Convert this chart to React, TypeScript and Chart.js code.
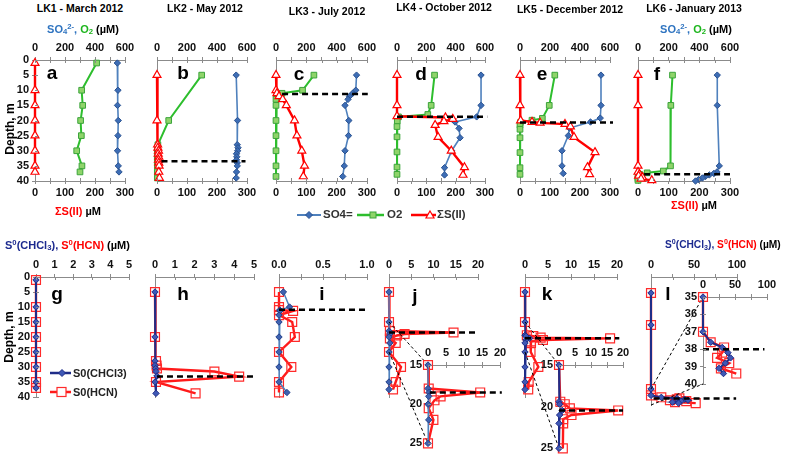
import React, { useEffect, useRef } from "react";
import { Chart, registerables } from "chart.js";

Chart.register(...registerables);

// ===================== DATA =====================
// Top row: depth (m); SO4 and O2 in µM (0–600 axis); ΣS(II) in µM (0–300 axis)
const aDepth = [1, 10, 15, 20, 25, 30, 35, 37];
const aSO4 = [549, 553, 550, 555, 553, 550, 555, 560];
const aO2 = [411, 311, 318, 304, 309, 278, 313, 300];
const aHS = [0, 0, 0, 0, 0, 0, 0, 0];

const bDepth = [5, 20, 28, 29, 30, 31, 32, 33, 34, 35, 37, 39];
const bSO4 = [528, 537, 535, 540, 538, 530, 532, 530, 535, 535, 530, 528];
const bO2 = [298, 78, 6, 4, 3, 2, 2, 2, 2, 2, 2, 2];
const bHS = [0, 0, 2, 3, 5, 4, 6, 5, 6, 7, 6, 8];
const bChemo = [33.5, 30, 590]; // depth, from, to

const cDepth = [5, 10, 11, 12, 13, 15, 20, 25, 30, 35, 38.5];
const cSO4 = [531, 526, 505, 485, 475, 455, 480, 478, 455, 450, 440];
const cO2 = [250, 175, 40, 5, 0, 0, 0, 0, 0, 0, 0];
const cHS = [0, 0, 3, 10, 22, 34, 61, 69, 85, 94, 90];
const cChemo = [11.2, 40, 605];

const dDepthSO4 = [5, 15, 18.8, 20.5, 22.6, 25.7, 30, 35.6, 38];
const dSO4 = [573, 573, 543, 396, 423, 430, 373, 324, 324];
const dDepthO2 = [5, 15, 18, 18.8, 20.2, 22, 25.4, 30.4, 35.4, 37.8];
const dO2 = [256, 233, 210, 10, 2, 0, 0, 0, 0, 0];
const dDepthHS = [5, 15, 18.6, 19, 19.5, 20.3, 21.5, 25.5, 30, 35.5, 38];
const dHS = [0, 0, 0, 165, 190, 160, 130, 140, 185, 230, 225];
const dChemo = [18.8, 0, 615];

const eDepthSO4 = [5, 15, 19.2, 20.5, 22.5, 25, 30, 35, 37.5];
const eSO4 = [540, 540, 535, 470, 330, 322, 280, 280, 288];
const eDepthO2 = [5, 15, 19.3, 19.9, 20.7, 21.5, 22.9, 25.7, 30.6, 35.6, 37.8];
const eO2 = [232, 195, 149, 80, 2, 0, 0, 0, 0, 0, 0];
const eDepthHS = [5, 15, 20, 20.5, 20.8, 21.2, 22, 25.5, 30.5, 35.5, 37.8];
const eHS = [0, 0, 2, 40, 67, 150, 168, 180, 250, 225, 232];
const eChemo = [20.7, 0, 620];

const fDepthSO4 = [5, 15, 35, 37, 37.5, 38, 38.5, 39, 39.5, 40];
const fSO4 = [517, 517, 530, 515, 495, 465, 440, 420, 395, 375];
const fDepthO2 = [5, 15, 35, 36.7, 37.3, 37.8, 38.3, 38.8, 39.3, 39.8];
const fO2 = [225, 214, 212, 165, 60, 10, 2, 0, 0, 0];
const fDepthHS = [5, 15, 35, 37, 37.8, 38.3, 38.8, 39.3, 39.8];
const fHS = [0, 0, 0, 0, 5, 2, 15, 10, 45];
const fChemo = [37.8, 40, 600];

// Bottom row: depth (m); S0(CHCl3) and S0(HCN) in µM
const gDepth = [1, 10, 15, 20, 25, 30, 35, 37];
const gCHCl3 = [0, 0, 0, 0, 0, 0, 0, 0];
const gHCN = [0, 0, 0, 0, 0, 0, 0, 0];

const hDepthC = [5, 20, 28, 29.5, 30.5, 31.5, 33, 35, 38.8];
const hCHCl3 = [0, 0, 0, 0, 0.03, 0.05, 0.1, 0, 0.05];
const hDepthH = [5, 20, 28, 29.5, 30.5, 31.5, 33.2, 35, 38.8];
const hHCN = [0, 0, 0.05, 0.08, 0.1, 3.0, 4.25, 0.05, 2.05];
const hChemo = [33.2, 0.1, 5];

const iDepth = [5, 10, 11, 11.3, 12.7, 15, 20, 25, 30, 35, 38.5];
const iCHCl3 = [0.05, 0.12, 0.01, 0.01, 0, 0, 0, 0, 0, 0, 0.09];
const iHCN = [0, 0, 0, 0.16, 0, 0.15, 0.18, 0, 0.14, 0, 0];
const iChemo = [10.9, 0, 1.0];

const jDepthC = [5, 15, 18, 18.5, 19, 20, 22, 25, 30, 35, 37.5];
const jCHCl3 = [0, 0, 0, 0.3, 0.2, 0, 0.2, 0, 0, 0, 0];
const jDepthH = [5, 15, 18, 18.5, 19, 19.5, 20.5, 22, 25, 30, 35, 37.5];
const jHCN = [0, 0, 0.2, 14.5, 3.5, 1.8, 0.2, 1.5, 0, 2.7, 1.5, 0.9];
const jChemo = [18.5, 0, 19.8];
const jInsetChemo = [18.5, 0.5, 20.5];

const kDepthC = [5, 15, 19.4, 19.7, 20.45, 21, 22, 25, 30, 35, 37.5];
const kCHCl3 = [0, 0, 0, 0.2, 1.0, 0.2, 0, 0, 0, 0, 0];
const kDepthH = [5, 15, 19.4, 19.7, 20.2, 20.45, 21, 21.5, 22, 25, 30, 35, 37.5];
const kHCN = [0, 0, 0.4, 1.8, 3.4, 18.5, 3.9, 1.3, 1.3, 1.2, 2.9, 0.8, 0.7];
const kChemo = [20.45, 0, 20.5];
const kInsetChemo = [20.45, 0, 20];

const lDepth = [5, 15, 35, 37, 37.6, 37.9, 38.2, 38.5, 38.8, 39.1, 39.4];
const lCHCl3 = [0, 0, 0, 0, 12, 30, 39, 43, 35, 25, 32];
const lHCN = [0, 0, 0, 0, 12, 33, 30, 22, 41, 28, 52];
const lChemo = [38, 3, 99];
const lInsetChemo = [38, 0, 96];

// Tick labels
const SO4_TICKS = [0, 200, 400, 600];
const HS_TICKS = [0, 100, 200, 300];
const DEPTH_TICKS = [0, 5, 10, 15, 20, 25, 30, 35, 40];
const GH_TICKS = [0, 1, 2, 3, 4, 5];
const I_TICKS = [0, 0.5, 1];
const JK_TICKS = [0, 5, 10, 15, 20];
const L_TICKS = [0, 50, 100];
const INSET_JK_DEPTH = [15, 20, 25];
const INSET_L_DEPTH = [35, 36, 37, 38, 39, 40];

// ===================== STYLE =====================
const FONT = "'Liberation Sans', Arial, Helvetica, sans-serif";
const AXIS = "#8b8b8b";
Chart.defaults.font.family = FONT;
Chart.defaults.font.size = 11;
Chart.defaults.font.weight = "bold" as any;
Chart.defaults.color = "#111";

const SO4_STYLE = { borderColor: "#4F81BD", borderWidth: 1.6, pointStyle: "rectRot", pointRadius: 3.2, pointBackgroundColor: "#3D6DB5", pointBorderColor: "#2A5290", pointBorderWidth: 1 };
const O2_STYLE = { borderColor: "#2DBE2D", borderWidth: 2, pointStyle: "rect", pointRadius: 4, pointBackgroundColor: "#8FD46A", pointBorderColor: "#3BA43B", pointBorderWidth: 1 };
const HS_STYLE = { borderColor: "#FF0000", borderWidth: 2.4, pointStyle: "triangle", pointRadius: 4.6, pointBackgroundColor: "#FFFFFF", pointBorderColor: "#FF0000", pointBorderWidth: 1.2 };
const CHCL3_DARK = { borderColor: "#1F2D88", borderWidth: 2, pointStyle: "rectRot", pointRadius: 3.2, pointBackgroundColor: "#3E58B5", pointBorderColor: "#1F2D88", pointBorderWidth: 1 };
const CHCL3_LIGHT = { borderColor: "#4F81BD", borderWidth: 1.5, pointStyle: "rectRot", pointRadius: 3.2, pointBackgroundColor: "#3E62B0", pointBorderColor: "#24408A", pointBorderWidth: 1 };
const HCN_STYLE = { borderColor: "#FF1A1A", borderWidth: 2.4, pointStyle: "rect", pointRadius: 6.3, pointBackgroundColor: "rgba(255,255,255,0)", pointBorderColor: "#FF2A2A", pointBorderWidth: 1.2 };
const DASH_STYLE = { borderColor: "#000", borderWidth: 2.5, borderDash: [6, 4], pointRadius: 0 };

type Box = { left: number; top: number; w: number; h: number };
type Margin = { L: number; T: number; R: number; B: number };
const TOP_M: Margin = { L: 34, T: 26, R: 14, B: 26 };
const BOT_M: Margin = { L: 34, T: 26, R: 14, B: 10 };

// ===================== HELPERS =====================
const pts = (d: number[], v: number[], lo = -Infinity, hi = Infinity) =>
  d.map((y, i) => ({ x: v[i], y })).filter((p) => p.y >= lo - 1e-9 && p.y <= hi + 1e-9);

const only = (list: number[], fmt: (v: number) => string = (v) => String(v)) => (val: any) => {
  const n = Number(val);
  return list.some((t) => Math.abs(t - n) < 1e-6) ? fmt(n) : "";
};

function xAxis(position: string, min: number, max: number, step: number, labels: number[], size: number, fmt?: (v: number) => string) {
  return {
    type: "linear", position, min, max, innerTick: true,
    ticks: { stepSize: step, autoSkip: false, maxRotation: 0, padding: 2, callback: only(labels, fmt), color: "#111", font: { size: 11, weight: "bold" } },
    grid: { display: true, drawOnChartArea: false, drawTicks: true, tickLength: 3, color: AXIS, lineWidth: 1 },
    border: { display: true, color: AXIS, width: 1 },
    afterFit: (s: any) => { s.height = size; },
  };
}

function yAxis(min: number, max: number, step: number, labels: number[] | null, width: number, tickLen: number) {
  return {
    type: "linear", position: "left", reverse: true, min, max, innerTick: tickLen > 0,
    ticks: { stepSize: step, autoSkip: false, display: !!labels, padding: 3, callback: labels ? only(labels) : () => "", color: "#111", font: { size: 11, weight: "bold" } },
    grid: { display: true, drawOnChartArea: false, drawTicks: tickLen > 0, tickLength: tickLen, color: AXIS, lineWidth: 1 },
    border: { display: true, color: AXIS, width: 1 },
    afterFit: (s: any) => { s.width = width; },
  };
}

// small tick marks on the inner side of the axis line (ticks cross the axis, as in the figure)
const innerTicks = {
  id: "innerTicks",
  afterDraw(chart: any) {
    const ctx = chart.ctx;
    ctx.save();
    ctx.strokeStyle = AXIS;
    ctx.lineWidth = 1;
    Object.values(chart.scales).forEach((sc: any) => {
      if (!sc.options.innerTick) return;
      sc.ticks.forEach((t: any) => {
        const p = Math.round(sc.getPixelForValue(t.value)) + 0.5;
        ctx.beginPath();
        if (sc.isHorizontal()) {
          const y = sc.options.position === "top" ? sc.bottom : sc.top;
          const dir = sc.options.position === "top" ? 1 : -1;
          ctx.moveTo(p, y);
          ctx.lineTo(p, y + dir * 3);
        } else {
          ctx.moveTo(sc.right, p);
          ctx.lineTo(sc.right + 3, p);
        }
        ctx.stroke();
      });
    });
    ctx.restore();
  },
};

const ds = (data: any[], xAxisID: string, style: any) => ({ data, xAxisID, yAxisID: "y", showLine: true, clip: false, ...style });
const dash = (c: number[] | null, xAxisID: string) =>
  c ? ds([{ x: c[1], y: c[0] }, { x: c[2], y: c[0] }], xAxisID, DASH_STYLE) : null;

function baseConfig(m: Margin, padBottom: number, datasets: any[], scales: any, plugins: any[] = []) {
  return {
    type: "scatter",
    data: { datasets: datasets.filter(Boolean) },
    options: {
      animation: false, responsive: false, maintainAspectRatio: false, devicePixelRatio: 1, events: [],
      layout: { padding: { left: 0, top: 0, right: m.R, bottom: padBottom } },
      plugins: { legend: { display: false }, tooltip: { enabled: false } },
      elements: { line: { tension: 0 } },
      scales,
    },
    plugins: [innerTicks, ...plugins],
  } as any;
}

type Spec = { id: string; box: Box; m: Margin; build: (charts: Record<string, Chart>) => any };

function topSpec(id: string, box: Box, so4: number[][], o2: number[][], hs: number[][], chemo: number[] | null, depthLabels: boolean): Spec {
  return {
    id, box, m: TOP_M,
    build: () => baseConfig(TOP_M, 0, [
      dash(chemo, "xTop"),
      ds(pts(hs[0], hs[1]), "xBot", HS_STYLE),
      ds(pts(o2[0], o2[1]), "xTop", O2_STYLE),
      ds(pts(so4[0], so4[1]), "xTop", SO4_STYLE),
    ], {
      y: yAxis(0, 40, 5, depthLabels ? DEPTH_TICKS : null, TOP_M.L, depthLabels ? 3 : 0),
      xTop: xAxis("top", 0, 600, 100, SO4_TICKS, TOP_M.T),
      xBot: xAxis("bottom", 0, 300, 50, HS_TICKS, TOP_M.B),
    }),
  };
}

function botSpec(id: string, box: Box, chl: number[][], hcn: number[][], chemo: number[] | null, xMax: number, step: number, ticks: number[], depthLabels: boolean, dark: boolean, fmt?: (v: number) => string): Spec {
  return {
    id, box, m: BOT_M,
    build: () => baseConfig(BOT_M, BOT_M.B, [
      dash(chemo, "x"),
      ds(pts(chl[0], chl[1]), "x", dark ? CHCL3_DARK : CHCL3_LIGHT),
      ds(pts(hcn[0], hcn[1]), "x", HCN_STYLE),
    ], {
      y: yAxis(0, 40, 5, depthLabels ? DEPTH_TICKS : null, BOT_M.L, depthLabels ? 3 : 0),
      x: xAxis("top", 0, xMax, step, ticks, BOT_M.T, fmt),
    }),
  };
}

function insetSpec(id: string, main: Spec, box: Box, m: Margin, chl: number[][], hcn: number[][], chemo: number[], xMax: number, step: number, ticks: number[], yMin: number, yMax: number, yStep: number, yTicks: number[], dark: boolean): Spec {
  const connectors = (charts: Record<string, Chart>) => ({
    id: "connectors-" + id,
    beforeDatasetsDraw(chart: any) {
      const mc: any = charts[main.id];
      if (!mc) return;
      const ctx = chart.ctx;
      const offX = (main.box.left - main.m.L) - (box.left - m.L);
      const offY = (main.box.top - main.m.T) - (box.top - m.T);
      ctx.save();
      ctx.setLineDash([3, 2.5]);
      ctx.lineWidth = 1;
      ctx.strokeStyle = "#000";
      [yMin, yMax].forEach((d) => {
        const x1 = mc.scales.x.getPixelForValue(0) + offX;
        const y1 = mc.scales.y.getPixelForValue(d) + offY;
        const x2 = chart.scales.x.getPixelForValue(0);
        const y2 = chart.scales.y.getPixelForValue(d);
        ctx.beginPath();
        ctx.moveTo(x1, y1);
        ctx.lineTo(x2, y2);
        ctx.stroke();
      });
      ctx.restore();
    },
  });
  return {
    id, box, m,
    build: (charts) => baseConfig(m, m.B, [
      dash(chemo, "x"),
      ds(pts(chl[0], chl[1], yMin, yMax), "x", dark ? CHCL3_DARK : CHCL3_LIGHT),
      ds(pts(hcn[0], hcn[1], yMin, yMax), "x", HCN_STYLE),
    ], {
      y: yAxis(yMin, yMax, yStep, yTicks, m.L, 3),
      x: xAxis("top", 0, xMax, step, ticks, m.T),
    }, [connectors(charts)]),
  };
}

// ===================== LAYOUT =====================
const TOP_Y = 60, TOP_H = 121, BOT_Y = 277, BOT_H = 120;

const specA = topSpec("a", { left: 35, top: TOP_Y, w: 90, h: TOP_H }, [aDepth, aSO4], [aDepth, aO2], [aDepth, aHS], null, true);
const specB = topSpec("b", { left: 157, top: TOP_Y, w: 90, h: TOP_H }, [bDepth, bSO4], [bDepth, bO2], [bDepth, bHS], bChemo, false);
const specC = topSpec("c", { left: 276, top: TOP_Y, w: 91, h: TOP_H }, [cDepth, cSO4], [cDepth, cO2], [cDepth, cHS], cChemo, false);
const specD = topSpec("d", { left: 397, top: TOP_Y, w: 88, h: TOP_H }, [dDepthSO4, dSO4], [dDepthO2, dO2], [dDepthHS, dHS], dChemo, false);
const specE = topSpec("e", { left: 520, top: TOP_Y, w: 90, h: TOP_H }, [eDepthSO4, eSO4], [eDepthO2, eO2], [eDepthHS, eHS], eChemo, false);
const specF = topSpec("f", { left: 638, top: TOP_Y, w: 92, h: TOP_H }, [fDepthSO4, fSO4], [fDepthO2, fO2], [fDepthHS, fHS], fChemo, false);

const specG = botSpec("g", { left: 36, top: BOT_Y, w: 93, h: BOT_H }, [gDepth, gCHCl3], [gDepth, gHCN], null, 5, 1, GH_TICKS, true, true);
const specH = botSpec("h", { left: 155, top: BOT_Y, w: 99, h: BOT_H }, [hDepthC, hCHCl3], [hDepthH, hHCN], hChemo, 5, 1, GH_TICKS, false, true);
const specI = botSpec("i", { left: 279, top: BOT_Y, w: 88, h: BOT_H }, [iDepth, iCHCl3], [iDepth, iHCN], iChemo, 1, 0.25, I_TICKS, false, false, (v) => v.toFixed(1));
const specJ = botSpec("j", { left: 389, top: BOT_Y, w: 89, h: BOT_H }, [jDepthC, jCHCl3], [jDepthH, jHCN], jChemo, 20, 5, JK_TICKS, false, false);
const specK = botSpec("k", { left: 525, top: BOT_Y, w: 92, h: BOT_H }, [kDepthC, kCHCl3], [kDepthH, kHCN], kChemo, 20, 5, JK_TICKS, false, true);
const specL = botSpec("l", { left: 651, top: BOT_Y, w: 86, h: 128 }, [lDepth, lCHCl3], [lDepth, lHCN], lChemo, 100, 25, L_TICKS, false, true);

const specJIn = insetSpec("jIn", specJ, { left: 428, top: 365, w: 72, h: 82 }, { L: 48, T: 50, R: 14, B: 6 },
  [jDepthC, jCHCl3], [jDepthH, jHCN], jInsetChemo, 20, 5, JK_TICKS, 15, 25, 5, INSET_JK_DEPTH, false);
const specKIn = insetSpec("kIn", specK, { left: 559, top: 365, w: 64, h: 87 }, { L: 44, T: 50, R: 14, B: 6 },
  [kDepthC, kCHCl3], [kDepthH, kHCN], kInsetChemo, 20, 5, JK_TICKS, 15, 25, 5, INSET_JK_DEPTH, true);
const specLIn = insetSpec("lIn", specL, { left: 703, top: 297, w: 64, h: 87 }, { L: 63, T: 27, R: 14, B: 30 },
  [lDepth, lCHCl3], [lDepth, lHCN], lInsetChemo, 100, 25, L_TICKS, 35, 40, 1, INSET_L_DEPTH, true);

const SPECS: Spec[] = [specA, specB, specC, specD, specE, specF, specG, specH, specI, specJ, specK, specL, specJIn, specKIn, specLIn];

// ===================== TEXT =====================
const SO4C = "#2F74C0", O2C = "#1DB51D", RED = "#FF0000", NAVY = "#1C2A8F";

function Txt(props: { x: number; y: number; size?: number; color?: string; anchor?: "center" | "left"; rotate?: number; children: any }) {
  const { x, y, size = 11, color = "#000", anchor = "center", rotate = 0 } = props;
  const tx = anchor === "center" ? "-50%" : "0";
  return (
    <div style={{ position: "absolute", left: x, top: y, transform: `translate(${tx}, -50%) rotate(${rotate}deg)`, fontSize: size, fontWeight: "bold", color, whiteSpace: "nowrap", lineHeight: 1, fontFamily: FONT }}>
      {props.children}
    </div>
  );
}

const sub = (t: string) => <sub style={{ fontSize: "70%", verticalAlign: "-0.25em", lineHeight: 0 }}>{t}</sub>;
const sup = (t: string) => <sup style={{ fontSize: "70%", verticalAlign: "0.5em", lineHeight: 0 }}>{t}</sup>;

function Icon(props: { x: number; y: number; w: number; color: string; lw: number; marker: any }) {
  return (
    <svg width={props.w} height={14} style={{ position: "absolute", left: props.x, top: props.y - 7 }}>
      <line x1={0} y1={7} x2={props.w} y2={7} stroke={props.color} strokeWidth={props.lw} />
      {props.marker}
    </svg>
  );
}

const TITLES: [string, number, number][] = [
  ["LK1 - March 2012", 80, 8],
  ["LK2 - May 2012", 205, 8],
  ["LK3 - July 2012", 327, 11],
  ["LK4 - October 2012", 444, 7],
  ["LK5 - December 2012", 570, 9],
  ["LK6 - January 2013", 694, 7.5],
];

const LETTERS: [string, number, number][] = [
  ["a", 52, 72], ["b", 183, 72], ["c", 299, 73], ["d", 421, 73], ["e", 542, 73], ["f", 657, 73],
  ["g", 57, 293], ["h", 183, 293], ["i", 322, 293], ["j", 415, 295], ["k", 547, 293], ["l", 668, 293],
];

export default function App() {
  const refs = useRef<Record<string, HTMLCanvasElement | null>>({});

  useEffect(() => {
    const charts: Record<string, Chart> = {};
    for (const s of SPECS) {
      const cv = refs.current[s.id];
      if (!cv) continue;
      charts[s.id] = new Chart(cv, s.build(charts));
    }
    return () => { Object.values(charts).forEach((c) => c.destroy()); };
  }, []);

  const so4Sub = (
    <>
      <span style={{ color: SO4C }}>SO{sub("4")}{sup("2-")},</span> <span style={{ color: O2C }}>O{sub("2")}</span> (µM)
    </>
  );
  const s0Head = (
    <>
      <span style={{ color: NAVY }}>S{sup("0")}(CHCl{sub("3")}),</span> <span style={{ color: RED }}>S{sup("0")}(HCN)</span> (µM)
    </>
  );

  return (
    <div style={{ position: "fixed", left: 0, top: 0, width: 785, height: 463, background: "#fff", overflow: "hidden", fontFamily: FONT }}>
      {SPECS.map((s) => {
        const w = s.box.w + s.m.L + s.m.R;
        const h = s.box.h + s.m.T + s.m.B;
        return (
          <canvas key={s.id} ref={(el) => { refs.current[s.id] = el; }} width={w} height={h}
            style={{ position: "absolute", left: s.box.left - s.m.L, top: s.box.top - s.m.T, width: w, height: h }} />
        );
      })}

      {TITLES.map(([t, x, y]) => <Txt key={t} x={x} y={y} size={10.5}>{t}</Txt>)}
      {LETTERS.map(([t, x, y]) => <Txt key={t} x={x} y={y} size={19}>{t}</Txt>)}

      <Txt x={83} y={29} size={11}>{so4Sub}</Txt>
      <Txt x={696} y={29} size={11}>{so4Sub}</Txt>
      <Txt x={78} y={211} size={11}><span style={{ color: RED }}>ΣS(II)</span> µM</Txt>
      <Txt x={694} y={205} size={11}><span style={{ color: RED }}>ΣS(II)</span> µM</Txt>
      <Txt x={5} y={245} size={11} anchor="left">{s0Head}</Txt>
      <Txt x={665} y={245} size={10.2} anchor="left">{s0Head}</Txt>
      <Txt x={10} y={129} size={12} rotate={-90}>Depth, m</Txt>
      <Txt x={9} y={337} size={12} rotate={-90}>Depth, m</Txt>

      {/* top legend */}
      <Icon x={297} y={215} w={24} color="#4F81BD" lw={2} marker={<polygon points="12,3.5 15.5,7 12,10.5 8.5,7" fill="#3D6DB5" stroke="#2A5290" strokeWidth={1} />} />
      <Txt x={323} y={215} size={11.5} color="#333" anchor="left">SO4=</Txt>
      <Icon x={357} y={215} w={27} color="#2DBE2D" lw={2.5} marker={<rect x={13} y={4} width={6} height={6} fill="#8FD46A" stroke="#3BA43B" strokeWidth={1} />} />
      <Txt x={387} y={215} size={11.5} color="#333" anchor="left">O2</Txt>
      <Icon x={411} y={215} w={25} color="#FF0000" lw={2.5} marker={<polygon points="19,3 23,10 15,10" fill="#fff" stroke="#FF0000" strokeWidth={1.2} />} />
      <Txt x={437} y={215} size={11.5} color="#333" anchor="left">ΣS(II)</Txt>

      {/* bottom legend */}
      <Icon x={50} y={373} w={21} color="#1F2D88" lw={2.5} marker={<polygon points="12,3.5 15.5,7 12,10.5 8.5,7" fill="#3E58B5" stroke="#1F2D88" strokeWidth={1} />} />
      <Txt x={73} y={373} size={11} color="#222" anchor="left">S0(CHCl3)</Txt>
      <Icon x={50} y={392} w={21} color="#FF1A1A" lw={2.5} marker={<rect x={7} y={2.5} width={9} height={9} fill="#fff" stroke="#FF2A2A" strokeWidth={1.2} />} />
      <Txt x={73} y={392} size={11} color="#222" anchor="left">S0(HCN)</Txt>
    </div>
  );
}
